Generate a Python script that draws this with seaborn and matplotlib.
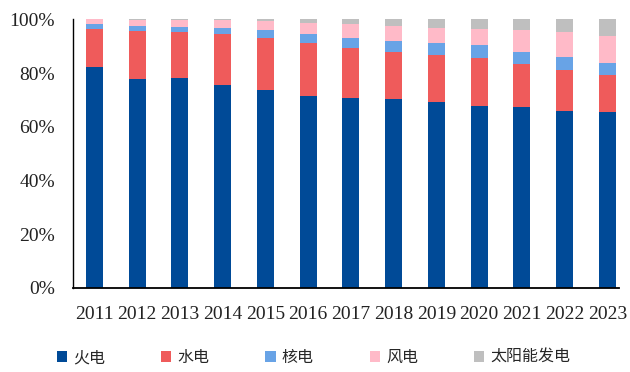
import numpy as np
import pandas as pd
import matplotlib
matplotlib.use('Agg')
import matplotlib.pyplot as plt
import seaborn as sns

# power generation mix, share of total (%)
years = ['2011', '2012', '2013', '2014', '2015', '2016', '2017',
         '2018', '2019', '2020', '2021', '2022', '2023']
thermal = [82.3, 77.8, 78.2, 75.7, 73.6, 71.3, 70.7, 70.3, 69.1, 67.7, 67.2, 65.7, 65.4]
hydro = [14.0, 17.8, 16.9, 18.7, 19.5, 19.8, 18.8, 17.5, 17.5, 17.9, 16.0, 15.6, 14.0]
nuclear = [2.1, 2.1, 2.1, 2.3, 2.9, 3.6, 3.7, 4.1, 4.7, 4.7, 4.6, 4.7, 4.5]
wind = [1.6, 2.2, 2.6, 3.0, 3.3, 4.1, 4.9, 5.6, 5.6, 6.2, 8.4, 9.1, 9.8]
solar = [0.0, 0.1, 0.2, 0.3, 0.7, 1.2, 1.9, 2.5, 3.1, 3.5, 3.8, 4.9, 6.3]

names = ['火电', '水电', '核电', '风电', '太阳能发电']
colors = ['#004A97', '#EF5B5B', '#68A3E6', '#FFBAC8', '#BFBFBF']

sns.set_style('white')
plt.rcParams['font.family'] = ['Liberation Serif', 'Noto Sans CJK SC']

df = pd.DataFrame({'year': years, '火电': thermal, '水电': hydro,
                   '核电': nuclear, '风电': wind, '太阳能发电': solar})

fig = plt.figure(figsize=(6.3, 3.72), dpi=100)
ax = fig.add_axes([0.116, 0.2266, 0.867, 0.7214])

# stack the series one on top of the other
bottom = np.zeros(len(years))
for name, col in zip(names, colors):
    sns.barplot(data=df, x='year', y=name, color=col, width=0.4,
                bottom=bottom, ax=ax, label=name, errorbar=None,
                saturation=1, linewidth=0)
    bottom = bottom + df[name].values

ax.set_xlim(-0.5, 12.28)
ax.set_ylim(0, 100)
ax.set_yticks([0, 20, 40, 60, 80, 100])
ax.set_yticklabels(['0%', '20%', '40%', '60%', '80%', '100%'])
ax.set_xlabel('')
ax.set_ylabel('')

for s in ['top', 'right']:
    ax.spines[s].set_visible(False)
for s in ['left', 'bottom']:
    ax.spines[s].set_color('black')
    ax.spines[s].set_linewidth(1.0)
ax.spines['bottom'].set_linewidth(1.3)

ax.tick_params(axis='y', direction='in', length=4, width=1, color='black',
               labelsize=14, labelcolor='#222222', pad=13)
ax.tick_params(axis='x', length=0, labelsize=14, labelcolor='#222222', pad=13)

handles, labels = ax.get_legend_handles_labels()
if ax.legend_:
    ax.legend_.remove()
fig.legend(handles, labels, loc='center left', ncol=5,
           bbox_to_anchor=(0.09, 1 - 358 / 372), frameon=False,
           fontsize=11.5, handlelength=0.65, handleheight=0.65,
           handletextpad=0.375, columnspacing=3.5, borderpad=0,
           borderaxespad=0)

fig.savefig('out.png', dpi=100)
